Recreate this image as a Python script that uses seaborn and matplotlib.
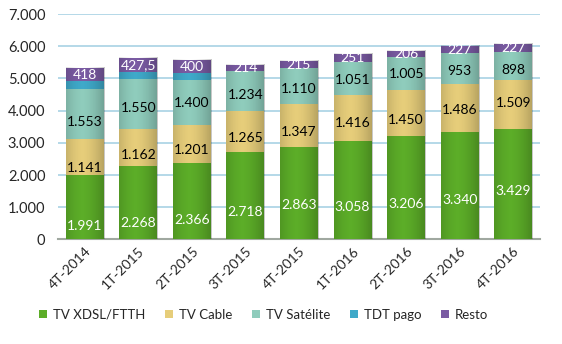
import numpy as np
import pandas as pd
import matplotlib
matplotlib.use("Agg")
import matplotlib.pyplot as plt
import seaborn as sns
from matplotlib.patches import Patch

periods = ["4T-2014", "1T-2015", "2T-2015", "3T-2015", "4T-2015",
           "1T-2016", "2T-2016", "3T-2016", "4T-2016"]
xdsl = [1991, 2268, 2366, 2718, 2863, 3058, 3206, 3340, 3429]
cable = [1141, 1162, 1201, 1265, 1347, 1416, 1450, 1486, 1509]
satelite = [1553, 1550, 1400, 1234, 1110, 1051, 1005, 953, 898]
tdt = [230, 235, 205, 0, 0, 0, 0, 0, 0]
resto = [418, 427.5, 400, 214, 215, 251, 206, 227, 227]

series_names = ["TV XDSL/FTTH", "TV Cable", "TV Satélite", "TDT pago", "Resto"]
colors = ["#5cad28", "#e6cd7a", "#8fccbc", "#3fa9c9", "#7a5ba3"]
label_colors = ["white", "black", "black", None, "white"]
# vertical placement of value labels within each segment (fraction of segment height)
label_frac = [
    [0.21, 0.23, 0.26, 0.31, 0.37, 0.33, 0.34, 0.37, 0.44],
    [0.19, 0.30, 0.34, 0.33, 0.36, 0.385, 0.345, 0.46, 0.53],
    [0.335, 0.42, 0.47, 0.40, 0.43, 0.45, 0.48, 0.43, 0.36],
    None,
    [0.45] * 9,
]

sns.set_theme(style="white")
plt.rcParams['font.family'] = ['Lato', 'DejaVu Sans']

data = [xdsl, cable, satelite, tdt, resto]
cum = np.cumsum(np.array(data, dtype=float), axis=0)

fig = plt.figure(figsize=(5.62, 3.44), dpi=100)
ax = fig.add_axes([0.103, 0.304, 0.858, 0.655])

for i in range(len(data) - 1, -1, -1):
    df = pd.DataFrame({"period": periods, "value": cum[i]})
    sns.barplot(data=df, x="period", y="value", color=colors[i], width=0.71,
                saturation=1, ax=ax, zorder=3, linewidth=0)

# subtle cylinder shading over each full bar
t = np.linspace(0, 1, 64)
shade = np.zeros((1, 64, 4))
shade[0, :, 3] = 0.22 * (np.abs(t - 0.42) / 0.58) ** 1.6
width = 0.71
for j in range(len(periods)):
    ax.imshow(shade, extent=[j - width / 2, j + width / 2, 0, cum[-1][j]],
              aspect="auto", zorder=4, interpolation="bilinear")


def fmt(v):
    if float(v).is_integer():
        return f"{int(v):,}".replace(",", ".")
    return f"{v}".replace(".", ",")


for i, vals in enumerate(data):
    if label_frac[i] is None:
        continue
    for j, v in enumerate(vals):
        base = cum[i][j] - v
        y = base + v * label_frac[i][j]
        ax.text(j, y, fmt(v), ha="center", va="center", fontsize=10,
                color=label_colors[i], zorder=5)

ax.set_ylim(0, 7000)
ax.set_xlim(-0.5, len(periods) - 0.5)
ax.set_yticks(range(0, 7001, 1000))
ax.set_yticklabels([fmt(t) for t in range(0, 7001, 1000)], fontsize=10.5)
ax.yaxis.grid(True, color="#a8d2e4", linewidth=1.2, zorder=0)
ax.set_axisbelow(True)
ax.set_xlabel("")
ax.set_ylabel("")
for s in ["top", "right", "left"]:
    ax.spines[s].set_visible(False)
ax.spines["bottom"].set_color("#a0a8a0")
ax.spines["bottom"].set_linewidth(1.5)
ax.tick_params(axis="y", length=0, pad=9)
ax.tick_params(axis="x", length=0, pad=4)
for lbl in ax.get_xticklabels():
    lbl.set_rotation(45)
    lbl.set_ha("right")
    lbl.set_rotation_mode("anchor")
    lbl.set_fontsize(10)

handles = [Patch(facecolor=c, edgecolor="none") for c in colors]
fig.legend(handles, series_names, loc="center", bbox_to_anchor=(0.469, 0.085),
           ncol=5, frameon=False, fontsize=9.5, handlelength=0.6, handleheight=0.6,
           handletextpad=0.45, columnspacing=1.5)

fig.savefig("out.png", dpi=100)
